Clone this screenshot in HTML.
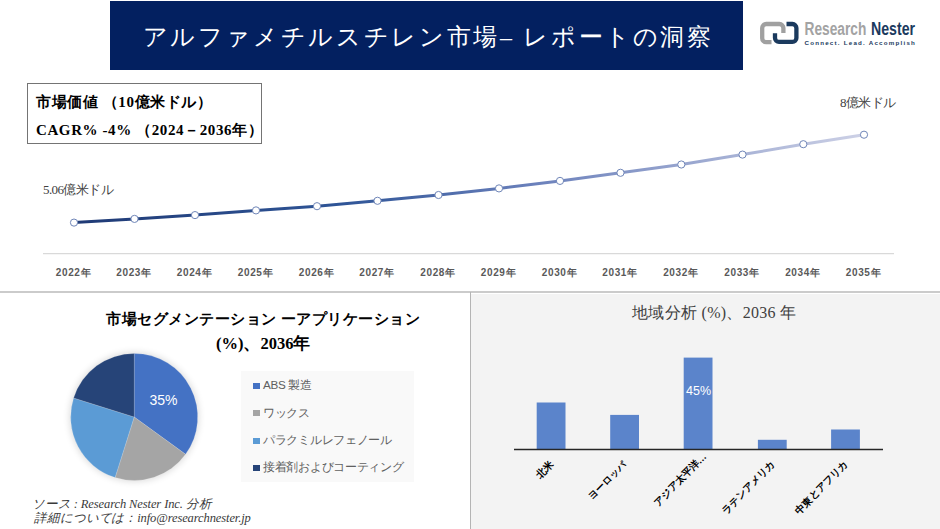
<!DOCTYPE html>
<html lang="ja"><head><meta charset="utf-8">
<style>
*{margin:0;padding:0;box-sizing:border-box}
html,body{width:940px;height:529px;overflow:hidden;background:#fff}
body{position:relative;font-family:"Liberation Serif",serif;color:#000}
.a{position:absolute;white-space:nowrap}
#banner{left:110px;top:1px;width:633px;height:69px;background:#032060}
#title{left:142.5px;top:21.5px;color:#fff;font-size:24px;letter-spacing:2.65px;line-height:30px}
#box{left:27px;top:83px;width:234.5px;height:61px;border:1.8px solid #747474}
.bt{font-weight:bold;font-size:15px;line-height:18px}
#sep{left:0;top:291px;width:940px;height:2px;background:#cbcbcb}
#vsep{left:470px;top:292px;width:1px;height:237px;background:#b4b4b4}
#rp{left:471px;top:294px;width:469px;height:235px;background:#f3f3f3}
.yr{font-family:"Liberation Sans",sans-serif;font-weight:bold;font-size:10px;color:#595959;line-height:12px;width:60px;text-align:center;letter-spacing:0.6px;text-indent:0.6px}
.lg{font-family:"Liberation Sans",sans-serif;font-size:11.7px;letter-spacing:-0.3px;color:#606060;line-height:14px}
.sq{position:absolute;width:7px;height:6px}
.cat{font-family:"Liberation Sans",sans-serif;font-weight:bold;font-size:10px;color:#000;line-height:12px;transform-origin:100% 50%;transform:rotate(-45deg)}
.ft{font-style:italic;font-size:12.5px;color:#3a3a3a;line-height:15px}
</style></head><body>
<div id="banner" class="a"></div>
<div id="title" class="a">アルファメチルスチレン市場– レポートの洞察</div>

<!-- logo -->
<svg class="a" style="left:750px;top:15px" width="180" height="36" viewBox="750 15 180 36">
  <path d="M783.4,33 V28 A4,4 0 0 0 779.4,24 H766.2 A4,4 0 0 0 762.2,28 V38.2 A4,4 0 0 0 766.2,42.2 H771.5" fill="none" stroke="#a0a0a0" stroke-width="4.3"/>
  <path d="M786.5,24 H792.4 A4,4 0 0 1 796.4,28 V37.9 A4,4 0 0 1 792.4,41.9 H779 A4,4 0 0 1 775,37.9 V33.2" fill="none" stroke="#1b3a5e" stroke-width="4.3"/>
  <text x="804.5" y="35.2" font-family="Liberation Sans" font-weight="bold" font-size="17.5" fill="#a3a3a3" textLength="61.9" lengthAdjust="spacingAndGlyphs">Research</text>
  <text x="871" y="35.2" font-family="Liberation Sans" font-weight="bold" font-size="17.5" fill="#1b3a5e" textLength="44" lengthAdjust="spacingAndGlyphs">Nester</text>
  <text x="804.5" y="44.8" font-family="Liberation Sans" font-weight="bold" font-size="6.2" fill="#1b3a5e" textLength="110.4" lengthAdjust="spacing">Connect. Lead. Accomplish</text>
</svg>

<div id="box" class="a"></div>
<div class="a bt" style="left:36px;top:93.3px;letter-spacing:0.6px">市場価値 （10億米ドル）</div>
<div class="a bt" style="left:36px;top:120.6px;letter-spacing:0.6px">CAGR% -4% （2024－2036年）</div>

<!-- line chart -->
<svg class="a" style="left:0;top:0" width="940" height="290">
  <defs>
    <linearGradient id="lg" gradientUnits="userSpaceOnUse" x1="74" y1="0" x2="864" y2="0">
      <stop offset="0" stop-color="#1f3a75"/>
      <stop offset="0.34" stop-color="#2f5597"/>
      <stop offset="0.58" stop-color="#6a80bb"/>
      <stop offset="1" stop-color="#cdd1e6"/>
    </linearGradient>
  </defs>
  <line x1="43" y1="253.6" x2="894" y2="253.6" stroke="#d9d9d9" stroke-width="1.3"/>
  <polyline fill="none" stroke="url(#lg)" stroke-width="3" stroke-linejoin="round"
    points="74,222.6 134.5,218.9 195,215.1 256,210.4 317,206.2 377.5,200.8 438.5,195 499,188.4 560,180.9 620.5,172.8 681.3,164.5 742.5,154.6 803.3,144.2 864,134.7"/>
  <g fill="#fff" stroke="#7086b8" stroke-width="1">
    <circle cx="74" cy="222.6" r="3.6"/>
    <circle cx="134.5" cy="218.9" r="3.6"/>
    <circle cx="195" cy="215.1" r="3.6"/>
    <circle cx="256" cy="210.4" r="3.6"/>
    <circle cx="317" cy="206.2" r="3.6"/>
    <circle cx="377.5" cy="200.8" r="3.6"/>
    <circle cx="438.5" cy="195" r="3.6"/>
    <circle cx="499" cy="188.4" r="3.6"/>
    <circle cx="560" cy="180.9" r="3.6"/>
    <circle cx="620.5" cy="172.8" r="3.6"/>
    <circle cx="681.3" cy="164.5" r="3.6"/>
    <circle cx="742.5" cy="154.6" r="3.6"/>
    <circle cx="803.3" cy="144.2" r="3.6"/>
    <circle cx="864" cy="134.7" r="3.6"/>
  </g>
</svg>
<div class="a" style="left:43px;top:182px;font-size:13px;color:#404040;line-height:15px;letter-spacing:-0.6px">5.06億米ドル</div>
<div class="a" style="left:840px;top:95px;font-size:13px;color:#404040;line-height:15px;letter-spacing:-0.6px">8億米ドル</div>

<div class="a yr" style="left:43.2px;top:266.6px">2022年</div>
<div class="a yr" style="left:103.7px;top:266.6px">2023年</div>
<div class="a yr" style="left:164.2px;top:266.6px">2024年</div>
<div class="a yr" style="left:225.2px;top:266.6px">2025年</div>
<div class="a yr" style="left:286.2px;top:266.6px">2026年</div>
<div class="a yr" style="left:346.7px;top:266.6px">2027年</div>
<div class="a yr" style="left:407.7px;top:266.6px">2028年</div>
<div class="a yr" style="left:468.2px;top:266.6px">2029年</div>
<div class="a yr" style="left:529.2px;top:266.6px">2030年</div>
<div class="a yr" style="left:589.7px;top:266.6px">2031年</div>
<div class="a yr" style="left:650.5px;top:266.6px">2032年</div>
<div class="a yr" style="left:711.7px;top:266.6px">2033年</div>
<div class="a yr" style="left:772.5px;top:266.6px">2034年</div>
<div class="a yr" style="left:833.2px;top:266.6px">2035年</div>

<div id="sep" class="a"></div>
<div id="vsep" class="a"></div>
<div id="rp" class="a"></div>

<!-- pie -->
<div class="a bt" style="left:106px;top:310px;letter-spacing:0.5px">市場セグメンテーション ーアプリケーション</div>
<div class="a bt" style="left:216px;top:334.5px;font-size:16.5px">(%)、2036年</div>

<svg class="a" style="left:60px;top:343px" width="150" height="150" viewBox="60 343 150 150">
  <defs><filter id="sh" x="-30%" y="-30%" width="160%" height="160%"><feGaussianBlur stdDeviation="3.5"/></filter></defs>
  <circle cx="134.2" cy="417" r="64.5" fill="#000" opacity="0.14" filter="url(#sh)"/>
  <path d="M134.2,417 L134.20,353.50 A63.5,63.5 0 0 1 185.57,454.32 Z" fill="#4472c4" stroke="#fff" stroke-width="0.3" stroke-opacity="0.5"/>
  <path d="M134.2,417 L185.57,454.32 A63.5,63.5 0 0 1 115.11,477.56 Z" fill="#a5a5a5" stroke="#fff" stroke-width="0.3" stroke-opacity="0.5"/>
  <path d="M134.2,417 L115.11,477.56 A63.5,63.5 0 0 1 73.61,398.01 Z" fill="#5b9bd5" stroke="#fff" stroke-width="0.3" stroke-opacity="0.5"/>
  <path d="M134.2,417 L73.61,398.01 A63.5,63.5 0 0 1 134.20,353.50 Z" fill="#264478" stroke="#fff" stroke-width="0.3" stroke-opacity="0.5"/>
  <text x="163.5" y="404.5" text-anchor="middle" font-family="Liberation Sans" font-size="14" fill="#fff">35%</text>
</svg>

<div class="a" style="left:241px;top:371px;width:173px;height:111px;background:#f9f9f9"></div>
<div class="sq" style="left:253px;top:382.7px;background:#4472c4"></div>
<div class="sq" style="left:253px;top:410.2px;background:#a5a5a5"></div>
<div class="sq" style="left:253px;top:437.8px;background:#5b9bd5"></div>
<div class="sq" style="left:253px;top:464.8px;background:#264478"></div>
<div class="a lg" style="left:263px;top:378px">ABS 製造</div>
<div class="a lg" style="left:263px;top:406px">ワックス</div>
<div class="a lg" style="left:263px;top:433px">パラクミルレフェノール</div>
<div class="a lg" style="left:263px;top:460px">接着剤およびコーティング</div>

<div class="a ft" style="left:32px;top:496.5px;letter-spacing:-0.1px">ソース : Research Nester Inc. 分析</div>
<div class="a ft" style="left:34px;top:511px;letter-spacing:-0.1px">詳細については：info@researchnester.jp</div>

<!-- bar chart -->
<div class="a bt" style="left:632px;top:304px;color:#404040;letter-spacing:0.3px;font-weight:normal;font-size:16px">地域分析 (%)、2036 年</div>
<svg class="a" style="left:471px;top:294px" width="469" height="235" viewBox="471 294 469 235">
  <rect x="536.7" y="402.5" width="28.8" height="46.5" fill="#5b84cb"/>
  <rect x="610.2" y="414.9" width="28.8" height="34.1" fill="#5b84cb"/>
  <rect x="683.7" y="357.6" width="28.8" height="91.4" fill="#5b84cb"/>
  <rect x="757.9" y="439.8" width="28.8" height="9.2" fill="#5b84cb"/>
  <rect x="831.1" y="429.5" width="28.8" height="19.5" fill="#5b84cb"/>
  <line x1="514" y1="449.5" x2="883" y2="449.5" stroke="#262626" stroke-width="1.5"/>
  <text x="698.6" y="394.6" text-anchor="middle" font-family="Liberation Sans" font-size="12.5" fill="#fff">45%</text>
</svg>
<div class="a cat" style="right:388.5px;top:457px">北米</div>
<div class="a cat" style="right:315.5px;top:457px;font-size:9.6px">ヨーロッパ</div>
<div class="a cat" style="right:235.5px;top:448.5px">アジア太平洋…</div>
<div class="a cat" style="right:167px;top:457px">ラテンアメリカ</div>
<div class="a cat" style="right:94px;top:457px">中東とアフリカ</div>
</body></html>
